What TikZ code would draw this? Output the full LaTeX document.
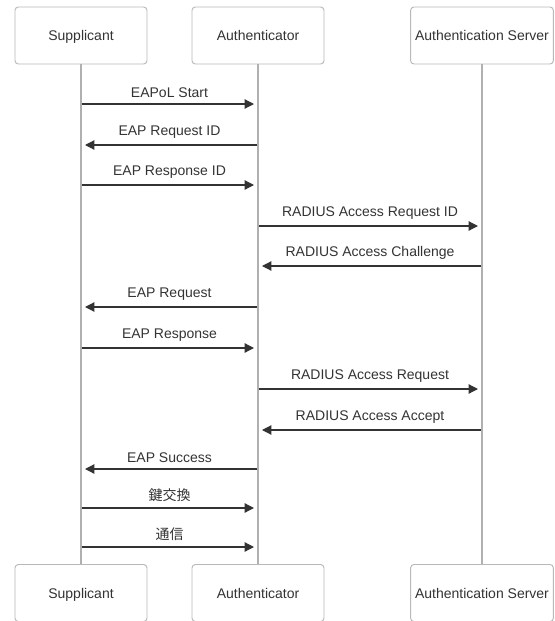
\documentclass[tikz,border=0pt]{standalone}
\usepackage{fontspec}
\setmainfont{Liberation Sans}
\newfontfamily\cjk{Noto Sans CJK JP}
\usetikzlibrary{arrows.meta}
\definecolor{ink}{HTML}{333333}
\definecolor{rim}{HTML}{B8B8B8}
\definecolor{lane}{HTML}{B0B0B0}
\begin{document}
\begin{tikzpicture}[x=0.75pt,y=-0.75pt,font=\fontsize{10.5}{12}\selectfont,text=ink]
      \tikzstyle{actor}=[draw=rim,rounded corners=2.5pt,fill=white,minimum width=99pt,minimum height=42.75pt,line width=0.7pt,text height=7.5pt,text depth=0pt]
      \tikzstyle{msg}=[draw=ink,line width=0.9pt,-{Triangle[length=7pt,width=7pt]},shorten >=3pt,shorten <=0.4pt]
      \tikzstyle{lbl}=[above=1.3pt,midway]
      \useasboundingbox (0,0) rectangle (555,621);

      \node[actor] (sup)  at (81,35.5) {Supplicant};
      \node[actor] (auth) at (258,35.5) {Authenticator};
      \node[actor,minimum width=106.5pt] (srv) at (482,35.5) {Authentication Server};
      \node[actor] (supb)  at (81,593) {Supplicant};
      \node[actor] (authb) at (258,593) {Authenticator};
      \node[actor,minimum width=106.5pt] (srvb) at (482,593) {Authentication Server};

      \draw[lane,line width=0.8pt] (sup) -- (supb);
      \draw[lane,line width=0.8pt] (auth) -- (authb);
      \draw[lane,line width=0.8pt] (srv) -- (srvb);

      \draw[msg] (sup |- 0,104) -- (auth |- 0,104) node[lbl] {EAPoL Start};
      \draw[msg] (auth |- 0,145) -- (sup |- 0,145) node[lbl] {EAP Request ID};
      \draw[msg] (sup |- 0,185) -- (auth |- 0,185) node[lbl] {EAP Response ID};
      \draw[msg] (auth |- 0,226) -- (srv |- 0,226) node[lbl] {RADIUS Access Request ID};
      \draw[msg] (srv |- 0,266) -- (auth |- 0,266) node[lbl] {RADIUS Access Challenge};
      \draw[msg] (auth |- 0,307) -- (sup |- 0,307) node[lbl] {EAP Request};
      \draw[msg] (sup |- 0,348) -- (auth |- 0,348) node[lbl] {EAP Response};
      \draw[msg] (auth |- 0,389) -- (srv |- 0,389) node[lbl] {RADIUS Access Request};
      \draw[msg] (srv |- 0,430) -- (auth |- 0,430) node[lbl] {RADIUS Access Accept};
      \draw[msg] (auth |- 0,469) -- (sup |- 0,469) node[lbl] {EAP Success};
      \draw[msg] (sup |- 0,508) -- (auth |- 0,508) node[lbl] {\cjk 鍵交換};
      \draw[msg] (sup |- 0,547) -- (auth |- 0,547) node[lbl] {\cjk 通信};
    \end{tikzpicture}
\end{document}
